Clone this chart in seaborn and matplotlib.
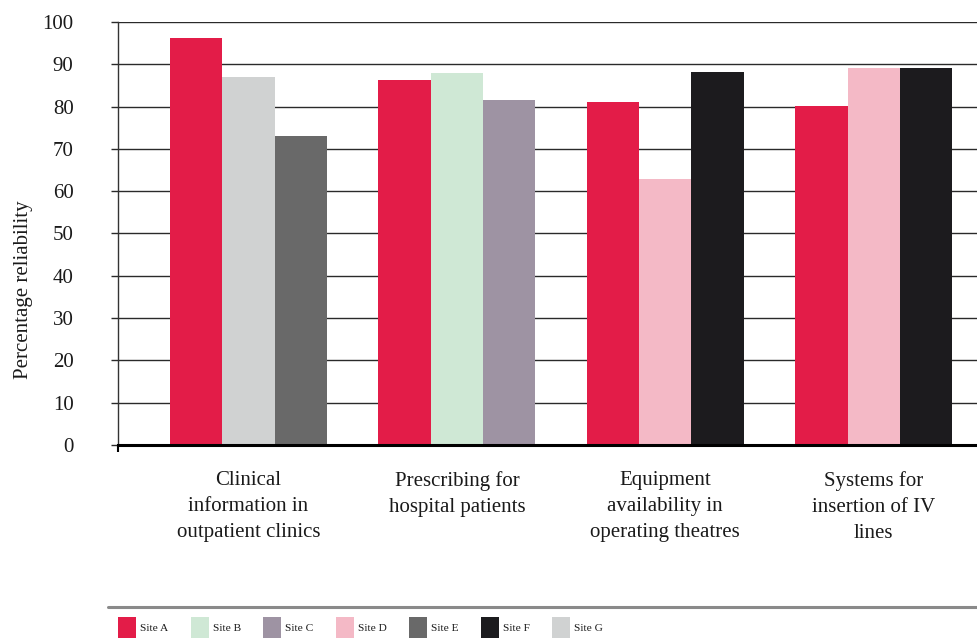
import numpy as np
import pandas as pd
import matplotlib
matplotlib.use("Agg")
import matplotlib.pyplot as plt
import matplotlib.patches as mpatches
from matplotlib.lines import Line2D
import seaborn as sns

# ---- data ----
categories = [
    "Clinical\ninformation in\noutpatient clinics",
    "Prescribing for\nhospital patients",
    "Equipment\navailability in\noperating theatres",
    "Systems for\ninsertion of IV\nlines",
]
sites = ["Site A", "Site B", "Site C", "Site D", "Site E", "Site F", "Site G"]
site_colors = ["#E31C48", "#CFE8D5", "#9E93A3", "#F4B9C6", "#696969", "#1C1B1E", "#D0D2D2"]
group_sites = [
    ["Site A", "Site G", "Site E"],
    ["Site A", "Site B", "Site C"],
    ["Site A", "Site D", "Site F"],
    ["Site A", "Site D", "Site F"],
]
group_values = [
    [96.2, 87.0, 73.0],
    [86.3, 87.9, 81.6],
    [81.1, 62.9, 88.2],
    [80.1, 89.1, 89.1],
]
y_ticks = [0, 10, 20, 30, 40, 50, 60, 70, 80, 90, 100]
y_label = "Percentage reliability"

rows = []
for cat, ss, vv in zip(categories, group_sites, group_values):
    for slot, (s, v) in enumerate(zip(ss, vv)):
        rows.append({"category": cat, "slot": slot, "site": s, "value": v})
df = pd.DataFrame(rows)
color_of = dict(zip(sites, site_colors))

sns.set_theme(style="white")
plt.rcParams["font.family"] = ["Liberation Serif", "DejaVu Serif"]

W, H = 978, 643
fig = plt.figure(figsize=(W / 100, H / 100), dpi=100)
ax = fig.add_axes([118 / W, 1 - 445 / H, 1 - 118 / W, (445 - 22) / H])

sns.barplot(data=df, x="category", y="value", hue="slot", order=categories,
            width=0.753, saturation=1, legend=False, ax=ax,
            palette=["#888888"] * 3, linewidth=0)

for slot, cont in enumerate(ax.containers):
    for ci, bar in enumerate(cont.patches):
        site = group_sites[ci][slot]
        bar.set_facecolor(color_of[site])
        bar.set_edgecolor("none")

spacing = 208.4
xl = (118 - 248.5) / spacing
xr = (978 - 248.5) / spacing
ax.set_xlim(xl, xr)
ax.set_ylim(0, 100)
ax.set_yticks(y_ticks)
ax.yaxis.grid(True, color="#2a2a2a", linewidth=1.0)
ax.set_axisbelow(True)

for side in ["top", "right"]:
    ax.spines[side].set_visible(False)
ax.spines["left"].set_color("#333333")
ax.spines["left"].set_linewidth(1.0)
ax.spines["bottom"].set_color("#000000")
ax.spines["bottom"].set_linewidth(2.2)

ax.tick_params(axis="y", which="major", left=True, length=5, width=1,
               color="#2a2a2a", pad=27, labelsize=15, labelcolor="#1a1a1a")
ax.tick_params(axis="x", which="major", bottom=False, pad=13, labelsize=15,
               labelcolor="#1a1a1a")
ax.set_xticks(range(len(categories)))
ax.set_xticklabels(categories, linespacing=1.5)
ax.set_xticks([xl], minor=True)
ax.tick_params(axis="x", which="minor", bottom=True, length=5, width=1.5, color="black")

ax.set_xlabel("")
ax.set_ylabel(y_label, fontsize=15, color="#1a1a1a")
ax.yaxis.set_label_coords((33 - 118) / (W - 118), (445 - 290) / 423)

# separator line above legend
fig.add_artist(Line2D([108 / W, 1.0], [1 - 607 / H] * 2, color="#8a8a8a", linewidth=2.2))

handles = [mpatches.Patch(facecolor=c, edgecolor="none", label=s) for s, c in zip(sites, site_colors)]
leg = fig.legend(handles=handles, loc="lower left", bbox_to_anchor=(113 / W, 0.0),
                 ncol=7, frameon=False, fontsize=8.2, handlelength=1.6,
                 handleheight=2.4, handletextpad=0.36, columnspacing=1.93,
                 borderaxespad=0.05)
for t in leg.get_texts():
    t.set_color("#1a1a1a")

fig.savefig("out.png", dpi=100)
